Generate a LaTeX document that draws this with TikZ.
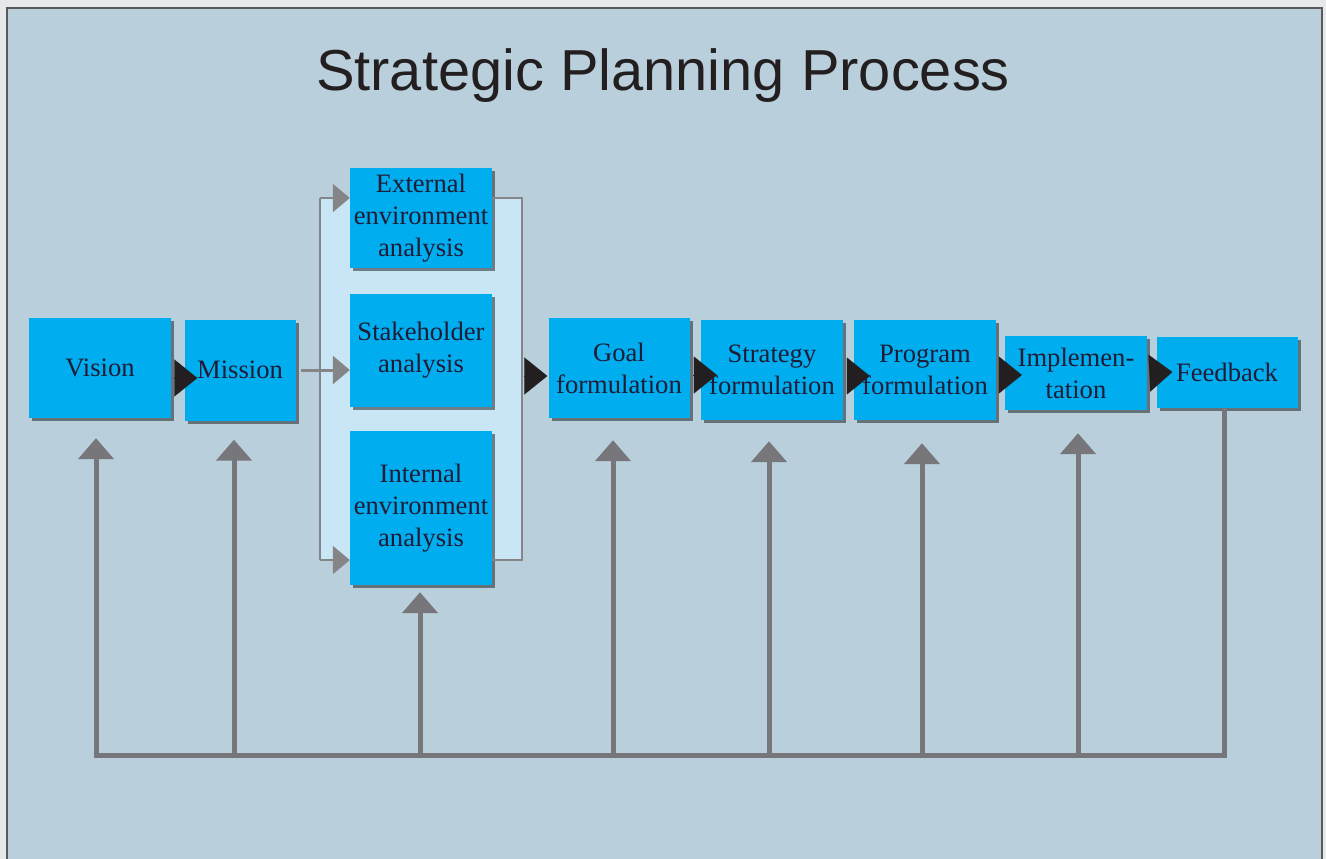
\documentclass[tikz,border=0pt]{standalone}
\usepackage{fontspec}
\setmainfont{Liberation Serif}
\newfontfamily\titlefont{Liberation Sans}
\usepackage{tikz}
\usetikzlibrary{arrows.meta}
\usetikzlibrary{shadows}
\definecolor{pagegray}{HTML}{E7E8EA}
\definecolor{panelblue}{HTML}{B9D0DC}
\definecolor{bracketblue}{HTML}{C8E6F6}
\definecolor{boxcyan}{HTML}{00ADEF}
\definecolor{loopgray}{HTML}{77767A}
\definecolor{tipblack}{HTML}{231F20}
\tikzset{
  procbox/.style={fill=boxcyan, align=center, inner sep=0pt,
    font=\fontsize{26.6}{32}\selectfont, text=tipblack!90!blue,
    drop shadow={shadow xshift=3pt, shadow yshift=-3pt, fill=black, opacity=0.45}},
  flowtip/.style={draw=tipblack, -{Triangle[length=23pt, width=37pt]}, line width=0.1pt},
  brline/.style={draw=loopgray!90, line width=2pt},
  brarrow/.style={brline, -{Triangle[length=17pt, width=28pt]}},
  fbline/.style={draw=loopgray, line width=5pt},
  fbarrow/.style={fbline, -{Triangle[length=21pt, width=35pt]}}
}

\begin{document}
\begin{tikzpicture}[x=1pt, y=-1pt]
  \useasboundingbox (0,0) rectangle (1326,859);
  \clip (0,0) rectangle (1326,859);
  % background and panel
  \fill[pagegray] (0,0) rectangle (1326,859);
  \filldraw[fill=panelblue, draw=black!65, line width=1.5pt] (7,8) rectangle (1322,880);
  \node[text=tipblack] (title) at (663,76) {\titlefont\fontsize{57.8}{60}\selectfont Strategic Planning Process};

  % bracket round the analysis boxes
  \coordinate (brTL) at (320,198);
  \coordinate (brBL) at (320,560);
  \coordinate (brTR) at (522,198);
  \coordinate (brBR) at (522,560);
  \fill[bracketblue] (brTL) rectangle (brBR);

  % process boxes
  \node[procbox, minimum width=142pt, minimum height=100pt] (vision) at (100,368) {Vision};
  \node[procbox, minimum width=111pt, minimum height=101pt] (mission) at (240,370) {Mission};
  \node[procbox, minimum width=142pt, minimum height=100pt] (external) at (421,218) {External\\environment\\analysis};
  \node[procbox, minimum width=142pt, minimum height=113pt] (stake) at (421,350) {Stakeholder\\analysis};
  \node[procbox, minimum width=142pt, minimum height=154pt] (internal) at (421,508) {Internal\\environment\\analysis};
  \node[procbox, minimum width=141pt, minimum height=100pt] (goal) at (619,368) {Goal\\formulation};
  \node[procbox, minimum width=142pt, minimum height=100pt] (strategy) at (772,370) {Strategy\\formulation};
  \node[procbox, minimum width=142pt, minimum height=100pt] (program) at (925,370) {Program\\formulation};
  \node[procbox, minimum width=142pt, minimum height=74pt] (implement) at (1076,373) {Implemen-\\tation};
  \node[procbox, minimum width=141pt, minimum height=71pt] (feedback) at (1227,372) {Feedback};

  % bracket lines
  \draw[brline] (brTL) -- (brBL);
  \draw[brline] (external.east |- brTR) -- (brTR) -- (brBR) -- (internal.east |- brBR);
  \draw[brarrow] (brTL) -- (external.west |- brTL);
  \draw[brarrow] (brBL) -- (internal.west |- brBL);
  \draw[brarrow, line width=3pt] ([xshift=5pt]mission.east) -- ([yshift=-20pt]stake.west);

  % flow between stages
  \draw[flowtip] ([xshift=4pt, yshift=-10pt]vision.east) -- ([xshift=13pt, yshift=-8pt]mission.west);
  \draw[flowtip] ([xshift=4pt, yshift=-178pt]brTR) -- ([xshift=-1pt, yshift=-8pt]goal.west);
  \draw[flowtip] ([xshift=3pt, yshift=-7pt]goal.east) -- ([xshift=16pt, yshift=-5pt]strategy.west);
  \draw[flowtip] ([xshift=4pt, yshift=-6pt]strategy.east) -- ([xshift=16pt, yshift=-6pt]program.west);
  \draw[flowtip] ([xshift=4pt, yshift=-5pt]program.east) -- ([xshift=17pt, yshift=-2pt]implement.west);
  \draw[flowtip] ([xshift=5pt]implement.east) -- ([xshift=16pt]feedback.west);

  % feedback loop
  \coordinate (fbase) at (0,755);
  \draw[fbarrow, line join=miter] ([xshift=-3pt]feedback.south) -- ([xshift=-3pt]feedback.south |- fbase) -- ([xshift=-4pt]vision.south |- fbase) -- ([xshift=-4pt, yshift=-20pt]vision.south);
  \draw[fbarrow] ([xshift=-6pt]mission.south |- fbase) -- ([xshift=-6pt, yshift=-19pt]mission.south);
  \draw[fbarrow] ([xshift=-1pt]internal.south |- fbase) -- ([xshift=-1pt, yshift=-7pt]internal.south);
  \draw[fbarrow] ([xshift=-6pt]goal.south |- fbase) -- ([xshift=-6pt, yshift=-22pt]goal.south);
  \draw[fbarrow] ([xshift=-3pt]strategy.south |- fbase) -- ([xshift=-3pt, yshift=-21pt]strategy.south);
  \draw[fbarrow] ([xshift=-3pt]program.south |- fbase) -- ([xshift=-3pt, yshift=-23pt]program.south);
  \draw[fbarrow] ([xshift=2pt]implement.south |- fbase) -- ([xshift=2pt, yshift=-23pt]implement.south);
\end{tikzpicture}
\end{document}
